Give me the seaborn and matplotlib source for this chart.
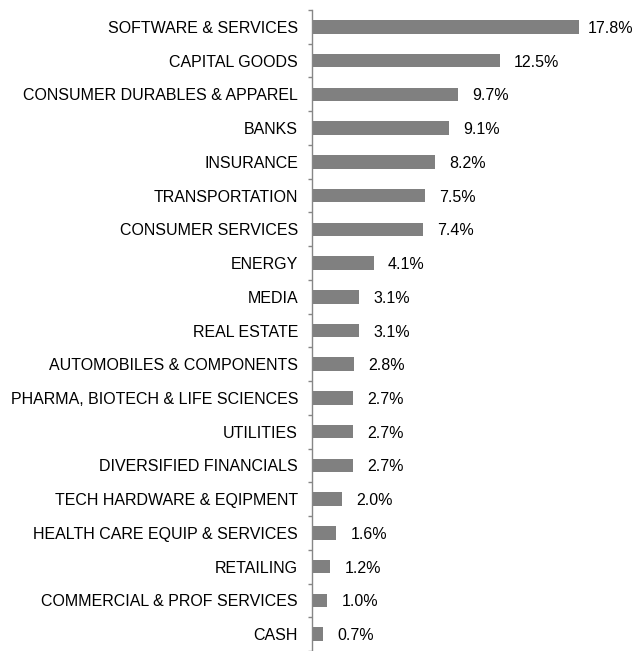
import numpy as np
import pandas as pd
import seaborn as sns
import matplotlib.pyplot as plt

# sector weights
sectors = ['SOFTWARE & SERVICES', 'CAPITAL GOODS', 'CONSUMER DURABLES & APPAREL', 'BANKS',
           'INSURANCE', 'TRANSPORTATION', 'CONSUMER SERVICES', 'ENERGY', 'MEDIA',
           'REAL ESTATE', 'AUTOMOBILES & COMPONENTS', 'PHARMA, BIOTECH & LIFE SCIENCES',
           'UTILITIES', 'DIVERSIFIED FINANCIALS', 'TECH HARDWARE & EQIPMENT',
           'HEALTH CARE EQUIP & SERVICES', 'RETAILING', 'COMMERCIAL & PROF SERVICES', 'CASH']
weights = [17.8, 12.5, 9.7, 9.1, 8.2, 7.5, 7.4, 4.1, 3.1, 3.1, 2.8, 2.7, 2.7, 2.7,
           2.0, 1.6, 1.2, 1.0, 0.7]

df = pd.DataFrame({'Sector': sectors, 'Weight': weights})

sns.set_style('white')
plt.rcParams['font.family'] = ['Liberation Sans', 'DejaVu Sans']

fig = plt.figure(figsize=(6.36, 6.51), dpi=100)
ax = fig.add_axes([312 / 636, 0, 1 - 312 / 636, 1 - 10 / 651])
sns.barplot(x='Weight', y='Sector', data=df, ax=ax, color='#808080', width=0.4,
            saturation=1, edgecolor='none')

# value labels; the longest bar gets a tighter gap so its label fits
for i, v in enumerate(weights):
    gap = 6.5 if v == max(weights) else 10.5
    ax.annotate(f'{v:.1f}%', (v, i), xytext=(gap, 0), textcoords='offset points',
                va='center_baseline', ha='left', fontsize=11.5, color='#000000',
                annotation_clip=False)

ax.set_xlim(0, 324 / 15)
ax.set_ylim(len(sectors) - 0.5, -0.5)
ax.set_xlabel('')
ax.set_ylabel('')
ax.set_xticks([])
ax.set_yticks(np.arange(-0.5, len(sectors), 1.0), minor=True)
ax.tick_params(axis='y', which='major', length=0, labelsize=11.5, pad=10, labelcolor='#000000')
ax.tick_params(axis='y', which='minor', length=3, width=1, color='#868686', left=True)
for s in ['top', 'right', 'bottom']:
    ax.spines[s].set_visible(False)
ax.spines['left'].set_color('#868686')
ax.spines['left'].set_linewidth(1)

plt.savefig('out.png', dpi=100)
